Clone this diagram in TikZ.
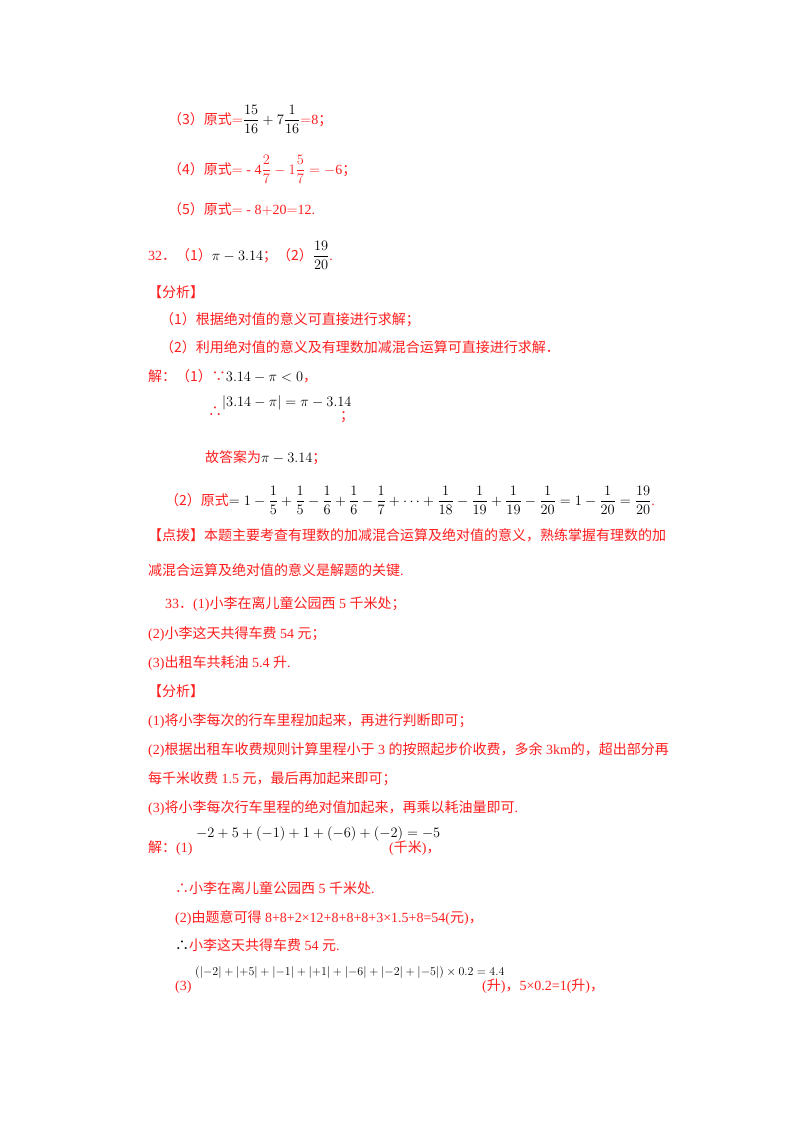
\documentclass[tikz,border=0pt]{standalone}
\usepackage{fontspec}
\usepackage{amsmath}
\setmainfont{Liberation Serif}
\newfontfamily\cjk{Noto Sans CJK SC}
\newcommand{\C}[1]{{\cjk #1}}
\definecolor{rd}{RGB}{255,30,30}
\tikzset{t/.style={anchor=base west,inner sep=0pt,text=rd,font=\fontsize{14}{16}\selectfont},
 m/.style={t,text=black}}
\begin{document}
\begin{tikzpicture}[x=1pt,y=-1pt]
\useasboundingbox[fill=white] (0,0) rectangle (800,1132);
\node[t] (a3) at (168,124) {\C{（3）原式}$=$\textcolor{black}{\fontsize{15}{16}\selectfont$\dfrac{15}{16}+7\dfrac{1}{16}$}$=$8\C{；}};
\node[t] (a4) at (168,174) {\C{（4）原式}$=$ - 4{\fontsize{15}{16}\selectfont$\dfrac{2}{7}-1\dfrac{5}{7}=-$}6\C{；}};
\node[t] (a5) at (168,214) {\C{（5）原式}$=$ - 8$+$20$=$12.};
\node[t] (b32) at (148,260) {32\C{．（1）}\textcolor{black}{\fontsize{15}{16}\selectfont$\pi-3.14$}\C{；（2）}\textcolor{black}{\fontsize{15}{16}\selectfont$\dfrac{19}{20}$}.};
\node[t] (fx1) at (148,297) {\C{【分析】}};
\node[t] (f1) at (160,324) {\C{（1）根据绝对值的意义可直接进行求解；}};
\node[t] (f2) at (160,352) {\C{（2）利用绝对值的意义及有理数加减混合运算可直接进行求解．}};
\node[t] (j1) at (148,381) {\C{解：（1）∵}\textcolor{black}{\fontsize{15}{16}\selectfont$3.14-\pi<0$}\C{，}};
\node[t] (j2a) at (208,416) {\C{∴}};
\node[m,font=\fontsize{15}{16}\selectfont] (j2) at (222,406) {$\lvert 3.14-\pi\rvert=\pi-3.14$};
\node[t] (j2b) at (340,420) {\C{；}};
\node[t] (j3) at (205,462) {\C{故答案为}\textcolor{black}{\fontsize{15}{16}\selectfont$\pi-3.14$}\C{；}};
\node[t] (j4) at (165,505) {\C{（2）原式}\textcolor{black}{\fontsize{15}{16}\selectfont$=1-\dfrac{1}{5}+\dfrac{1}{5}-\dfrac{1}{6}+\dfrac{1}{6}-\dfrac{1}{7}+\cdots+\dfrac{1}{18}-\dfrac{1}{19}+\dfrac{1}{19}-\dfrac{1}{20}=1-\dfrac{1}{20}=\dfrac{19}{20}$}.};
\node[t] (d1) at (148,540) {\C{【点拨】本题主要考查有理数的加减混合运算及绝对值的意义，熟练掌握有理数的加}};
\node[t] (d2) at (148,575) {\C{减混合运算及绝对值的意义是解题的关键}.};
\node[t] (c1) at (165,608) {33\C{．}(1)\C{小李在离儿童公园西} 5 \C{千米处；}};
\node[t] (c2) at (148,638) {(2)\C{小李这天共得车费} 54 \C{元；}};
\node[t] (c3) at (148,667) {(3)\C{出租车共耗油} 5.4 \C{升}.};
\node[t] (fx2) at (148,696) {\C{【分析】}};
\node[t] (g1) at (148,725) {(1)\C{将小李每次的行车里程加起来，再进行判断即可；}};
\node[t] (g2) at (148,754) {(2)\C{根据出租车收费规则计算里程小于} 3 \C{的按照起步价收费，多余} 3km\C{的，超出部分再}};
\node[t] (g3) at (148,783) {\C{每千米收费} 1.5 \C{元，最后再加起来即可；}};
\node[t] (g4) at (148,812) {(3)\C{将小李每次行车里程的绝对值加起来，再乘以耗油量即可}.};
\node[t] (k1) at (148,852) {\C{解：}(1)};
\node[m,font=\fontsize{13.5}{14}\selectfont] (k1m) at (196,837) {$-2+5+(-1)+1+(-6)+(-2)=-5$};
\node[t] (k1b) at (389,852) {(\C{千米})\C{，}};
\node[t] (k2) at (175,893) {\C{∴小李在离儿童公园西} 5 \C{千米处}.};
\node[t] (k3) at (175,922) {(2)\C{由题意可得} 8+8+2×12+8+8+8+3×1.5+8=54(\C{元})\C{，}};
\node[t] (k4) at (175,950) {\textcolor{black}{\C{∴}}\C{小李这天共得车费} 54 \C{元}.};
\node[t] (k5) at (175,990) {(3)};
\node[m,font=\fontsize{13}{14}\selectfont] (k5m) at (195,975) {$(\lvert-2\rvert+\lvert+5\rvert+\lvert-1\rvert+\lvert+1\rvert+\lvert-6\rvert+\lvert-2\rvert+\lvert-5\rvert)\times 0.2=4.4$};
\node[t] (k5b) at (482,990) {(\C{升})\C{，}5×0.2=1(\C{升})\C{，}};
\end{tikzpicture}
\end{document}
